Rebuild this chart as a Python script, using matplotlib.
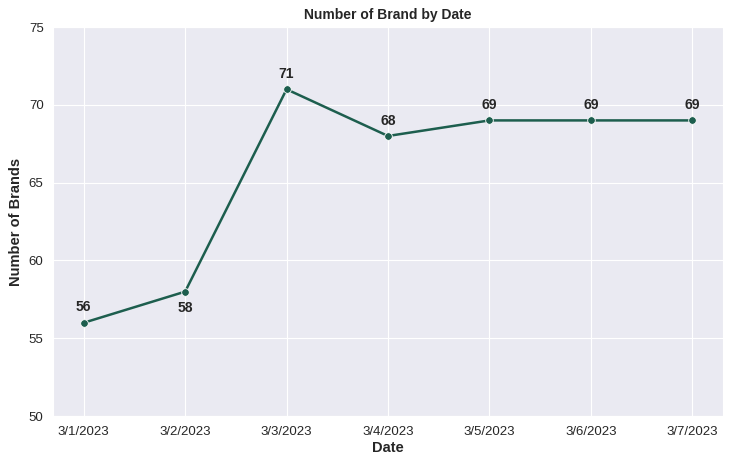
import matplotlib
matplotlib.use("Agg")
import matplotlib.pyplot as plt
import seaborn as sns

dates = ["3/1/2023", "3/2/2023", "3/3/2023", "3/4/2023", "3/5/2023", "3/6/2023", "3/7/2023"]
brands = [56, 58, 71, 68, 69, 69, 69]
label_below = [False, True, False, False, False, False, False]

sns.set_style("darkgrid")
plt.rcParams['font.family'] = ['Liberation Sans', 'DejaVu Sans']

fig, ax = plt.subplots(figsize=(7.3, 4.66), dpi=100)
x = list(range(len(dates)))
ax.plot(x, brands, color="#1d5e4e", linewidth=1.8, marker="o", markersize=5.5,
        markeredgecolor="white", markeredgewidth=0.6)

for xi, v, below in zip(x, brands, label_below):
    off = -12 if below else 6
    ax.annotate(str(v), (xi, v), xytext=(0, off), textcoords="offset points",
                ha="center", va="bottom" if not below else "center",
                fontsize=10, fontweight="bold", color="#262626")

ax.set_xticks(x)
ax.set_xticklabels(dates)
ax.set_ylim(50, 75)
ax.set_yticks([50, 55, 60, 65, 70, 75])
ax.tick_params(labelsize=9.5, colors="#262626")
ax.set_title("Number of Brand by Date", fontsize=10, fontweight="bold")
ax.set_xlabel("Date", fontsize=10.5, fontweight="bold", labelpad=2)
ax.set_ylabel("Number of Brands", fontsize=10.5, fontweight="bold")

fig.subplots_adjust(left=0.073, right=0.99, top=0.942, bottom=0.107)
fig.savefig("out.png", dpi=100)
